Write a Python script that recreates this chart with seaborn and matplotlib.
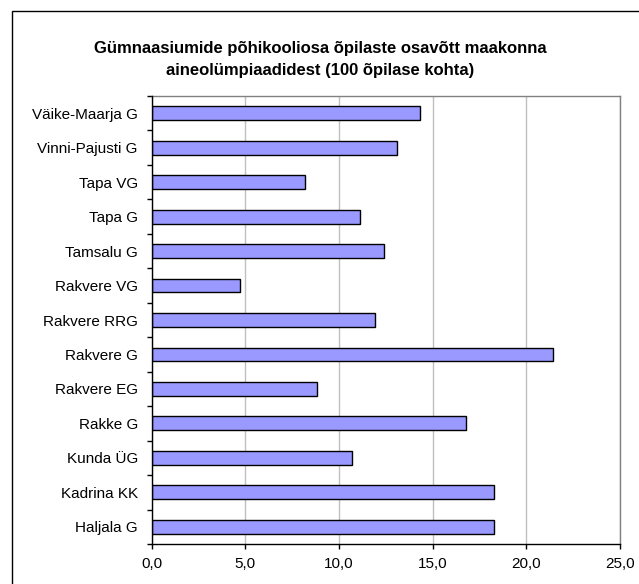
import matplotlib
matplotlib.use("Agg")
import matplotlib.pyplot as plt
import seaborn as sns
import pandas as pd
from matplotlib.patches import Rectangle
from matplotlib.ticker import FixedLocator, FuncFormatter

schools = ["Väike-Maarja G", "Vinni-Pajusti G", "Tapa VG", "Tapa G", "Tamsalu G",
           "Rakvere VG", "Rakvere RRG", "Rakvere G", "Rakvere EG", "Rakke G",
           "Kunda ÜG", "Kadrina KK", "Haljala G"]
values = [14.3, 13.1, 8.2, 11.1, 12.4, 4.7, 11.9, 21.4, 8.8, 16.8, 10.7, 18.3, 18.3]
x_ticks = [0, 5, 10, 15, 20, 25]
title = "Gümnaasiumide põhikooliosa õpilaste osavõtt maakonna\naineolümpiaadidest (100 õpilase kohta)"

sns.set_theme(style="white")
plt.rcParams["font.family"] = ["Liberation Sans", "DejaVu Sans"]

df = pd.DataFrame({"school": schools, "value": values})

fig = plt.figure(figsize=(6.39, 5.84), dpi=100)
ax = fig.add_axes([151.7/639, 1-544/584, (620-151.7)/639, (544-96)/584])

sns.barplot(data=df, x="value", y="school", order=schools, orient="h",
            color="#9999FF", edgecolor="black", linewidth=1.0, width=0.4,
            saturation=1, ax=ax, zorder=3)

ax.set_xlim(0, 25)
ax.set_ylim(len(schools) - 0.5, -0.5)
ax.xaxis.set_major_locator(FixedLocator(x_ticks))
ax.xaxis.set_major_formatter(FuncFormatter(lambda v, p: f"{v:.1f}".replace(".", ",")))
ax.grid(axis="x", color="#c0c0c0", linewidth=1.0, zorder=0)
ax.grid(axis="y", visible=False)
ax.set_axisbelow(True)
ax.set_xlabel("")
ax.set_ylabel("")

ax.tick_params(axis="x", which="major", direction="out", length=3.6, width=1,
               color="black", labelsize=11, pad=6, bottom=True)
ax.tick_params(axis="y", which="major", length=0, labelsize=11, pad=10, left=True)
ax.yaxis.set_minor_locator(FixedLocator([i - 0.5 for i in range(len(schools) + 1)]))
ax.tick_params(axis="y", which="minor", direction="out", length=3.6, width=1,
               color="black", left=True)
for lbl in ax.get_xticklabels() + ax.get_yticklabels():
    lbl.set_color("black")

for side in ["left", "bottom"]:
    ax.spines[side].set_color("black")
    ax.spines[side].set_linewidth(1.0)
for side in ["top", "right"]:
    ax.spines[side].set_color("#808080")
    ax.spines[side].set_linewidth(1.0)
ax.spines["left"].set_zorder(5)
ax.spines["bottom"].set_zorder(5)

fig.text(320/639, 1-59.5/584, title, ha="center", va="center", fontsize=12,
         fontweight="bold", linespacing=1.6, color="black")

fig.patches.append(Rectangle((12/639, -0.1), 1.2, (1-11/584) + 0.1,
                             transform=fig.transFigure, fill=False,
                             edgecolor="black", linewidth=1.0))

fig.savefig("out.png", dpi=100)
